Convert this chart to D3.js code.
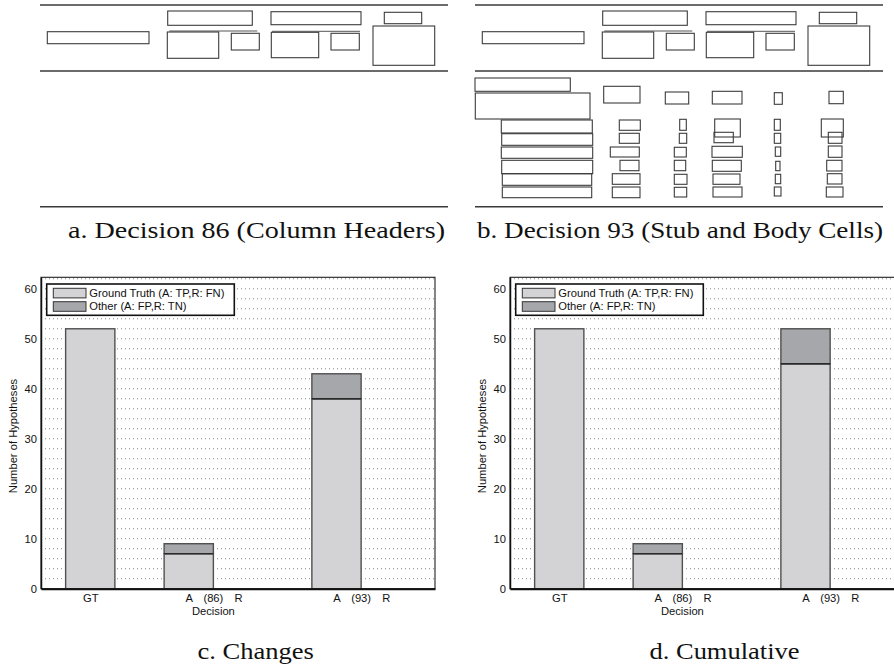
<!DOCTYPE html>
<html>
<head>
<meta charset="utf-8">
<script src="https://cdn.jsdelivr.net/npm/d3@7/dist/d3.min.js"></script>
<style>
  html, body { margin: 0; padding: 0; background: #fff; }
  svg { display: block; }
</style>
</head>
<body>
<svg id="fig" width="894" height="669"></svg>
<script>
// ---------------- DATA ----------------
// Bar chart categories (slots along the Decision axis; gaps are empty slots)
const slots = ["s0", "GT", "gap1", "A86", "R86", "gap2", "A93", "R93", "s8"];
const categories = ["GT", "A86", "R86", "A93", "R93"];
const categoryLabels = ["GT", "A", "R", "A", "R"];
const groupLabels = ["(86)", "(93)"];
const groupMembers = [["A86", "R86"], ["A93", "R93"]];
const seriesNames = ["Ground Truth (A: TP,R: FN)", "Other (A: FP,R: TN)"];

// c. Changes
const changesGT    = [52, 7, 0, 38, 0];
const changesOther = [0, 2, 0, 5, 0];
// d. Cumulative
const cumulativeGT    = [52, 7, 0, 45, 0];
const cumulativeOther = [0, 2, 0, 7, 0];

const yTicks = [0, 10, 20, 30, 40, 50, 60];
const yMax = 62.3;
const gridStep = 2;

// Table-region sketches (document units, relative to table's left/top)
// Column-header cells [x0, y0, x1, y1]
const headerCells = [
  [7.3, 31.7, 109.0, 43.7],
  [127.7, 11.0, 212.3, 25.3],
  [231.0, 11.7, 321.0, 24.7],
  [344.3, 12.3, 381.7, 23.7],
  [127.3, 32.0, 178.7, 58.3],
  [191.3, 33.3, 219.3, 50.0],
  [231.3, 32.3, 278.7, 57.7],
  [291.0, 33.3, 319.3, 50.0],
  [333.0, 26.0, 394.7, 65.3]
];
// Partial header rules [x0, y, x1]
const headerRules = [
  [129.3, 31.0, 217.3],
  [232.0, 31.3, 320.0]
];
// Table rules (top, mid, bottom) [y]
const tableRules = [5, 71, 206.7];
const tableWidth = 408;
// Stub and body cells of Decision 93 [x0, y0, x1, y1]
const bodyCells = [
  // stub
  [0.0, 78.0, 95.3, 91.3],
  [0.3, 93.0, 115.0, 119.0],
  [26.3, 120.0, 117.3, 133.0],
  [26.7, 133.7, 117.7, 145.3],
  [26.3, 147.0, 117.7, 158.3],
  [26.7, 160.3, 117.7, 173.7],
  [27.3, 173.7, 116.7, 185.3],
  [27.3, 187.0, 116.7, 197.7],
  // column 1
  [128.7, 86.3, 165.0, 103.0],
  [144.3, 120.0, 165.3, 130.3],
  [144.3, 133.3, 164.3, 143.3],
  [135.3, 147.0, 164.3, 157.0],
  [145.0, 160.3, 164.0, 170.7],
  [137.3, 173.7, 165.0, 184.3],
  [137.3, 187.0, 165.0, 197.7],
  // column 2
  [190.3, 92.0, 213.7, 104.0],
  [204.7, 119.3, 211.3, 130.3],
  [204.3, 133.3, 211.7, 143.3],
  [199.3, 147.3, 211.3, 157.0],
  [199.3, 160.3, 210.7, 170.7],
  [199.3, 174.3, 212.0, 184.3],
  [199.3, 187.3, 211.7, 197.0],
  // column 3
  [237.3, 91.3, 267.0, 104.0],
  [239.7, 119.0, 265.3, 137.0],
  [239.0, 132.3, 258.3, 142.7],
  [237.0, 146.3, 267.3, 157.3],
  [237.3, 160.3, 266.3, 171.3],
  [238.0, 174.0, 265.0, 184.3],
  [238.0, 187.0, 267.0, 197.0],
  // column 4
  [299.3, 92.7, 307.3, 104.3],
  [299.3, 119.3, 305.3, 130.3],
  [299.3, 133.3, 305.7, 143.3],
  [300.3, 147.0, 305.7, 156.3],
  [300.7, 161.3, 305.0, 170.7],
  [300.3, 174.3, 305.7, 183.7],
  [299.3, 187.0, 306.0, 196.0],
  // column 5
  [354.0, 91.3, 368.3, 103.7],
  [346.3, 119.0, 368.3, 137.0],
  [353.3, 132.3, 367.0, 143.3],
  [353.3, 146.0, 367.0, 157.3],
  [351.7, 160.3, 367.0, 171.0],
  [352.3, 173.7, 367.0, 184.0],
  [351.3, 187.0, 368.0, 197.0]
];

const captions = [
  "a. Decision 86 (Column Headers)",
  "b. Decision 93 (Stub and Body Cells)",
  "c. Changes",
  "d. Cumulative"
];

// ---------------- LAYOUT / STYLE ----------------
const svg = d3.select("#fig");
const C_GT = "#d3d3d5";
const C_OT = "#a6a7aa";
const EDGE = "#505050";
const SANS = "'Liberation Sans', Arial, Helvetica, sans-serif";
const SERIF = "'Liberation Serif', 'Times New Roman', serif";

// ---------- Top panels (table sketches) ----------
function tablePanel(left, withBody) {
  const g = svg.append("g");
  const sx = d3.scaleLinear().domain([0, tableWidth]).range([left, left + tableWidth]);
  const sy = d3.scaleLinear().domain([0, 669]).range([0, 669]);

  g.selectAll("line.rule").data(tableRules).join("line")
    .attr("class", "rule")
    .attr("x1", sx(0)).attr("x2", sx(tableWidth))
    .attr("y1", d => sy(d)).attr("y2", d => sy(d))
    .attr("stroke", "#3a3a3a").attr("stroke-width", 1.4);

  g.selectAll("line.hrule").data(headerRules).join("line")
    .attr("class", "hrule")
    .attr("x1", d => sx(d[0])).attr("x2", d => sx(d[2]))
    .attr("y1", d => sy(d[1])).attr("y2", d => sy(d[1]))
    .attr("stroke", "#555").attr("stroke-width", 1);

  const cells = withBody ? headerCells.concat(bodyCells) : headerCells;
  g.selectAll("rect.cell").data(cells).join("rect")
    .attr("class", "cell")
    .attr("x", d => sx(d[0])).attr("y", d => sy(d[1]))
    .attr("width", d => sx(d[2]) - sx(d[0]))
    .attr("height", d => sy(d[3]) - sy(d[1]))
    .attr("fill", "none").attr("stroke", "#3c3c3c").attr("stroke-width", 1.1);
}
tablePanel(40, false);
tablePanel(475, true);

// ---------- Captions ----------
function caption(text, cx, baseline, size, width) {
  svg.append("text")
    .attr("x", cx).attr("y", baseline)
    .attr("text-anchor", "middle")
    .attr("font-family", SERIF).attr("font-size", size)
    .attr("textLength", width).attr("lengthAdjust", "spacingAndGlyphs")
    .attr("fill", "#111")
    .text(text);
}
caption(captions[0], 256.5, 238, 23.5, 377);
caption(captions[1], 680, 238, 23.5, 406);
caption(captions[2], 255.7, 659.3, 22.5, 116.5);
caption(captions[3], 724.5, 659.3, 22.5, 150);

// ---------- Bar charts ----------
function barChart(left, gtVals, otVals) {
  const width = 394, top = 277.3, bottom = 588.7;
  const g = svg.append("g");
  const x = d3.scalePoint().domain(slots).range([left, left + width]).padding(0);
  const step = x.step();
  const y = d3.scaleLinear().domain([0, yMax]).range([bottom, top]);

  // dotted grid
  const gridVals = d3.range(gridStep, yMax, gridStep);
  g.selectAll("line.grid").data(gridVals).join("line")
    .attr("class", "grid")
    .attr("x1", left).attr("x2", left + width)
    .attr("y1", d => y(d)).attr("y2", d => y(d))
    .attr("stroke", "#7a7a7a").attr("stroke-width", 0.9)
    .attr("stroke-dasharray", "1,3");

  // bars
  const rows = categories.map((c, i) => ({ c, gt: gtVals[i], ot: otVals[i] }));
  const bw = step;
  g.selectAll("rect.gt").data(rows.filter(d => d.gt > 0)).join("rect")
    .attr("class", "gt")
    .attr("x", d => x(d.c) - bw / 2).attr("width", bw)
    .attr("y", d => y(d.gt)).attr("height", d => y(0) - y(d.gt))
    .attr("fill", C_GT).attr("stroke", EDGE).attr("stroke-width", 1.4);
  g.selectAll("rect.ot").data(rows.filter(d => d.ot > 0)).join("rect")
    .attr("class", "ot")
    .attr("x", d => x(d.c) - bw / 2).attr("width", bw)
    .attr("y", d => y(d.gt + d.ot)).attr("height", d => y(d.gt) - y(d.gt + d.ot))
    .attr("fill", C_OT).attr("stroke", EDGE).attr("stroke-width", 1.4);
  // divider between stacks
  g.selectAll("line.div").data(rows.filter(d => d.ot > 0 && d.gt > 0)).join("line")
    .attr("class", "div")
    .attr("x1", d => x(d.c) - bw / 2).attr("x2", d => x(d.c) + bw / 2)
    .attr("y1", d => y(d.gt)).attr("y2", d => y(d.gt))
    .attr("stroke", "#2a2a2a").attr("stroke-width", 1.3);

  // frame
  g.append("rect")
    .attr("x", left).attr("y", top).attr("width", width).attr("height", bottom - top)
    .attr("fill", "none").attr("stroke", "#222").attr("stroke-width", 1.1);

  // x axis
  const xAxis = d3.axisBottom(x).tickValues(categories).tickSize(0).tickPadding(5)
    .tickFormat(d => categoryLabels[categories.indexOf(d)]);
  const xa = g.append("g").attr("transform", `translate(0,${bottom})`).call(xAxis);
  xa.select(".domain").attr("stroke", "#111").attr("stroke-width", 2);
  xa.selectAll("text").attr("font-family", SANS).attr("font-size", 11.2).attr("fill", "#111")
    .attr("dy", null).attr("y", 13.3);
  // group labels
  g.selectAll("text.grp").data(groupLabels).join("text")
    .attr("class", "grp")
    .attr("x", (d, i) => (x(groupMembers[i][0]) + x(groupMembers[i][1])) / 2)
    .attr("y", bottom + 13.3)
    .attr("text-anchor", "middle")
    .attr("font-family", SANS).attr("font-size", 11.2).attr("fill", "#111")
    .text(d => d);
  // x title
  g.append("text")
    .attr("x", (x(groupMembers[0][0]) + x(groupMembers[0][1])) / 2)
    .attr("y", bottom + 26.5)
    .attr("text-anchor", "middle")
    .attr("font-family", SANS).attr("font-size", 11.2).attr("fill", "#111")
    .text("Decision");

  // y axis
  const yAxis = d3.axisLeft(y).tickValues(yTicks).tickSize(0).tickPadding(4);
  const ya = g.append("g").attr("transform", `translate(${left},0)`).call(yAxis);
  ya.select(".domain").attr("stroke", "#111").attr("stroke-width", 1.5);
  ya.selectAll("text").attr("font-family", SANS).attr("font-size", 11.2).attr("fill", "#111");
  g.append("text")
    .attr("transform", `translate(${left - 24},${(top + bottom) / 2 + 3}) rotate(-90)`)
    .attr("text-anchor", "middle")
    .attr("font-family", SANS).attr("font-size", 11.2).attr("fill", "#111")
    .text("Number of Hypotheses");

  // legend
  const lg = g.append("g").attr("transform", `translate(${left + 5.7},${top + 6.7})`);
  lg.append("rect").attr("x", 0).attr("y", 0).attr("width", 187.6).attr("height", 31.3)
    .attr("fill", "#fff").attr("stroke", "#111").attr("stroke-width", 1.6);
  const lcol = [C_GT, C_OT];
  lg.selectAll("rect.sw").data(seriesNames).join("rect")
    .attr("class", "sw")
    .attr("x", 6.6).attr("y", (d, i) => 4.3 + i * 13.4)
    .attr("width", 32.7).attr("height", 9.6)
    .attr("fill", (d, i) => lcol[i]).attr("stroke", "#333").attr("stroke-width", 1);
  lg.selectAll("text.lt").data(seriesNames).join("text")
    .attr("class", "lt")
    .attr("x", 42.6).attr("y", (d, i) => 13 + i * 13.4)
    .attr("font-family", SANS).attr("font-size", 11.2).attr("fill", "#111")
    .text(d => d);
}
barChart(41, changesGT, changesOther);
barChart(510, cumulativeGT, cumulativeOther);
</script>
</body>
</html>
